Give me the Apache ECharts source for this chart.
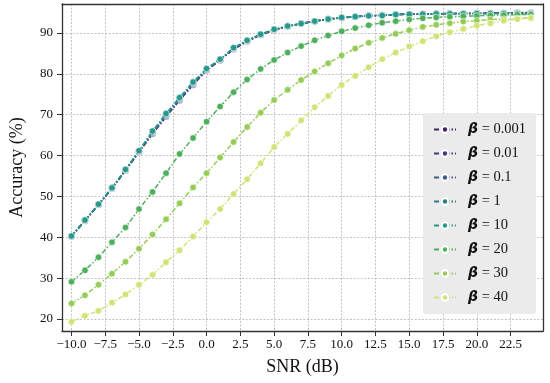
<!DOCTYPE html>
<html>
<head>
<meta charset="utf-8">
<script src="https://cdn.jsdelivr.net/npm/echarts@6/dist/echarts.min.js"></script>
<style>html,body{margin:0;padding:0;background:#fff}#c{width:550px;height:383px}</style>
</head>
<body>
<div id="c"></div>
<script>
const snr = [-10,-9,-8,-7,-6,-5,-4,-3,-2,-1,0,1,2,3,4,5,6,7,8,9,10,11,12,13,14,15,16,17,18,19,20,21,22,23,24];
const betaLabels = ['0.001','0.01','0.1','1','10','20','30','40'];
const acc_b0001 = [40.2,44.0,47.9,51.9,56.3,60.8,65.3,69.5,73.5,77.3,80.8,83.3,86.0,87.9,89.5,90.7,91.6,92.3,92.9,93.3,93.7,94.0,94.2,94.4,94.5,94.6,94.7,94.7,94.8,94.8,94.9,94.9,94.9,95.0,95.0];
const acc_b001  = [40.3,44.1,48.0,52.0,56.4,60.9,65.5,69.7,73.7,77.5,80.9,83.4,86.1,88.0,89.6,90.8,91.6,92.3,92.9,93.4,93.7,94.0,94.2,94.3,94.5,94.6,94.6,94.7,94.8,94.8,94.8,94.9,94.9,94.9,94.9];
const acc_b01   = [40.2,44.1,48.0,52.0,56.5,61.0,65.6,69.8,73.8,77.6,81.0,83.5,86.2,88.1,89.6,90.8,91.7,92.3,92.9,93.4,93.8,94.0,94.2,94.4,94.5,94.6,94.7,94.7,94.7,94.8,94.8,94.8,94.9,94.9,94.9];
const acc_b1    = [40.3,44.2,48.1,52.1,56.5,61.1,65.8,70.0,74.0,77.8,81.1,83.5,86.3,88.1,89.7,90.9,91.7,92.3,92.9,93.4,93.8,94.0,94.2,94.3,94.5,94.6,94.6,94.7,94.7,94.7,94.8,94.8,94.8,94.8,94.8];
const acc_b10   = [40.3,44.2,48.1,52.1,56.6,61.2,66.0,70.3,74.2,78.0,81.3,83.6,86.4,88.2,89.7,90.9,91.7,92.3,92.9,93.4,93.8,94.0,94.2,94.3,94.5,94.6,94.6,94.7,94.7,94.7,94.8,94.8,94.8,94.8,94.8];
const acc_b20   = [29.1,31.9,35.1,38.8,42.4,46.9,51.1,55.7,60.4,64.3,68.3,72.0,75.5,78.6,81.2,83.4,85.2,86.8,88.2,89.4,90.4,91.2,91.9,92.5,92.9,93.3,93.6,93.8,94.0,94.1,94.2,94.3,94.4,94.5,94.5];
const acc_b30   = [23.8,25.8,28.4,31.1,34.0,37.2,40.7,44.4,48.3,52.2,55.7,59.5,63.3,67.0,70.5,73.6,76.1,78.5,80.6,82.6,84.5,86.2,87.6,88.8,89.8,90.7,91.5,92.0,92.4,92.8,93.0,93.3,93.4,93.6,93.7];
const acc_b40   = [19.3,20.8,22.0,24.0,26.0,28.4,30.8,33.9,36.8,40.2,43.7,46.9,50.6,54.2,58.1,62.1,65.3,68.6,71.8,74.6,77.3,79.5,81.6,83.6,85.2,86.7,88.0,89.2,90.2,91.0,91.8,92.4,93.0,93.4,93.7];
const xTicks = [-10,-7.5,-5,-2.5,0,2.5,5,7.5,10,12.5,15,17.5,20,22.5];
const yTicks = [20,30,40,50,60,70,80,90];

const allSeries = [acc_b0001, acc_b001, acc_b01, acc_b1, acc_b10, acc_b20, acc_b30, acc_b40];
const colors = ['#45206b','#46378a','#3a5b8c','#2d7d8c','#26998a','#4fae5c','#95cc55','#d2e274'];
const serif = 'Liberation Serif';
const fmtNum = (v, d) => { const s = Math.abs(v).toFixed(d); return v < 0 ? '\u2212' + s : s; };

const chart = echarts.init(document.getElementById('c'), null, {renderer: 'canvas'});
const xRange = {min: -10.7, max: 24.9};
const yRange = {min: 17.06, max: 97.1};
const gridLine = {show: true, lineStyle: {color: '#b4b4b4', width: 0.8, type: [2, 1.6]}};
const axisLineStyle = {show: true, onZero: false, lineStyle: {color: '#333', width: 1.3}};

chart.setOption({
  animation: false,
  backgroundColor: '#fff',
  grid: {left: 52, right: 7, top: 4, bottom: 52, containLabel: false},
  xAxis: [{
    type: 'value', ...xRange, position: 'bottom',
    name: 'SNR (dB)', nameLocation: 'middle', nameGap: 27,
    nameTextStyle: {fontFamily: serif, fontSize: 18, color: '#111'},
    axisLine: axisLineStyle,
    axisTick: {show: true, length: 5, lineStyle: {color: '#333', width: 1}, customValues: xTicks},
    axisLabel: {fontFamily: serif, fontSize: 13, color: '#111', margin: 7, customValues: xTicks, formatter: v => fmtNum(v, 1)},
    splitLine: gridLine
  }, {
    type: 'value', ...xRange, position: 'top',
    axisLine: axisLineStyle, axisTick: {show: false}, axisLabel: {show: false}, splitLine: {show: false}
  }],
  yAxis: [{
    type: 'value', ...yRange, position: 'left',
    name: 'Accuracy (%)', nameLocation: 'middle', nameGap: 36, nameRotate: 90,
    nameTextStyle: {fontFamily: serif, fontSize: 18, color: '#111'},
    axisLine: axisLineStyle,
    axisTick: {show: true, length: 5, lineStyle: {color: '#333', width: 1}, customValues: yTicks},
    axisLabel: {fontFamily: serif, fontSize: 13, color: '#111', margin: 9, customValues: yTicks, formatter: v => fmtNum(v, 0)},
    splitLine: gridLine
  }, {
    type: 'value', ...yRange, position: 'right',
    axisLine: axisLineStyle, axisTick: {show: false}, axisLabel: {show: false}, splitLine: {show: false}
  }],
  legend: {
    orient: 'vertical', left: 423, top: 113,
    backgroundColor: '#ebebeb', borderRadius: 3,
    padding: [9, 10, 9, 10],
    itemWidth: 22, itemHeight: 8, itemGap: 9,
    data: betaLabels.map(b => 'β = ' + b),
    formatter: name => '{b|β}{t| = ' + name.slice(4) + '}',
    textStyle: {
      rich: {
        b: {fontFamily: 'DejaVu Sans', fontWeight: 'bold', fontStyle: 'italic', fontSize: 14, color: '#111', padding: [0, 0, 0, 7]},
        t: {fontFamily: serif, fontSize: 14.5, color: '#111'}
      }
    }
  },
  series: allSeries.map((arr, i) => ({
    type: 'line',
    name: 'β = ' + betaLabels[i],
    data: snr.map((x, j) => [x, arr[j]]),
    color: colors[i],
    symbol: 'circle', symbolSize: 6.5,
    itemStyle: {color: colors[i], borderColor: '#fff', borderWidth: 0.6},
    lineStyle: {color: colors[i], width: 1.5, type: [5, 2, 1.5, 2]},
    emphasis: {disabled: true},
    z: 2 + i
  }))
});
</script>
</body>
</html>
